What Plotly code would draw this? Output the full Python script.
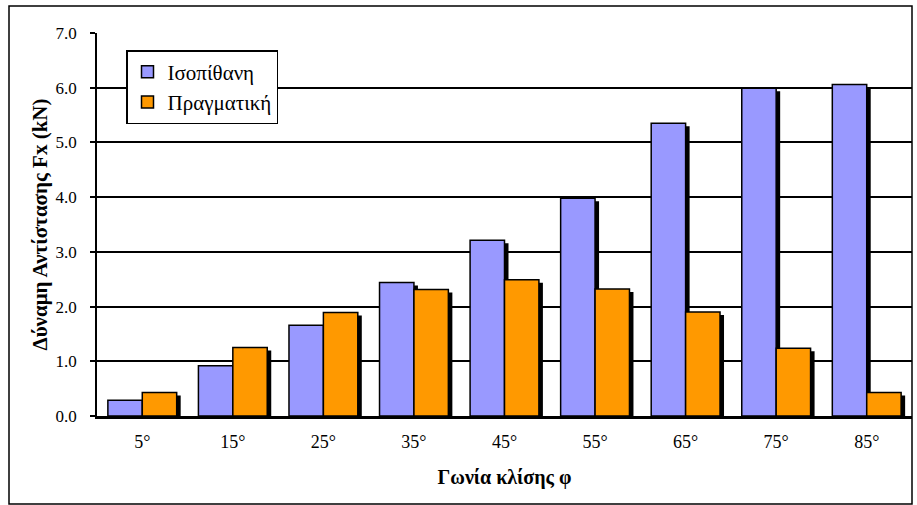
import plotly.graph_objects as go

categories = ["5°", "15°", "25°", "35°", "45°", "55°", "65°", "75°", "85°"]
isopithani = [0.29, 0.92, 1.66, 2.44, 3.21, 3.98, 5.35, 5.99, 6.06]
pragmatiki = [0.43, 1.25, 1.89, 2.31, 2.49, 2.32, 1.90, 1.24, 0.43]
series_names = ["Ισοπίθανη", "Πραγματική"]
y_ticks = [0, 1, 2, 3, 4, 5, 6, 7]
y_ticklabels = ["0.0", "1.0", "2.0", "3.0", "4.0", "5.0", "6.0", "7.0"]

BLUE = "#9999FF"
ORANGE = "#FF9900"
FONT = "Liberation Serif, Times New Roman, serif"

W, H = 917, 505
ML, MR, MT, MB = 97, 5, 33, 89
pw, ph = W - ML - MR, H - MT - MB
cat_px = pw / len(categories)
ymax = 7.0
unit_px = ph / ymax

bar_w = 0.38
sh_dx = 4 / cat_px
sh_dy = 3 / unit_px

fig = go.Figure()

for vals, name, color, off in [
    (isopithani, series_names[0], BLUE, -bar_w),
    (pragmatiki, series_names[1], ORANGE, 0.0),
]:
    # shadow
    fig.add_trace(go.Bar(
        x=categories, y=[v - sh_dy for v in vals],
        width=bar_w, offset=off + sh_dx,
        marker=dict(color="black", line=dict(width=0)),
        showlegend=False, hoverinfo="skip",
    ))
    fig.add_trace(go.Bar(
        x=categories, y=vals, name=name,
        width=bar_w, offset=off,
        marker=dict(color=color, line=dict(color="black", width=1.5)),
    ))

fig.update_layout(
    width=W, height=H,
    margin=dict(l=ML, r=MR, t=MT, b=MB),
    barmode="overlay",
    plot_bgcolor="white", paper_bgcolor="white",
    font=dict(family=FONT, color="black"),
    showlegend=True,
    legend=dict(
        x=(126 - ML) / pw, y=(416 - 50) / ph, xanchor="left", yanchor="top",
        bgcolor="white", bordercolor="black", borderwidth=1.5,
        font=dict(family=FONT, size=21, color="black"),
        tracegroupgap=0, itemwidth=30,
    ),
    xaxis=dict(
        showline=True, linecolor="black", linewidth=2.5,
        showgrid=False, ticks="", ticklabelstandoff=8,
        tickfont=dict(family=FONT, size=18, color="black"),
        title=dict(text="<b>Γωνία κλίσης φ</b>",
                   font=dict(family=FONT, size=20, color="black"), standoff=19),
    ),
    yaxis=dict(
        range=[0, ymax], tickvals=y_ticks, ticktext=y_ticklabels,
        showline=True, linecolor="black", linewidth=1.5,
        showgrid=True, gridcolor="black", gridwidth=1.5,
        ticks="outside", ticklen=5, tickcolor="black", tickwidth=1.5,
        ticklabelstandoff=10,
        tickfont=dict(family=FONT, size=17, color="black"),
        zeroline=False,
        title=dict(text="<b>Δύναμη Αντίστασης Fx (kN)</b>",
                   font=dict(family=FONT, size=21, color="black"), standoff=2),
    ),
    shapes=[dict(
        type="rect", xref="paper", yref="paper",
        x0=(9 - ML) / pw, x1=1.0, y0=(416 - 504) / ph, y1=(416 - 6) / ph,
        line=dict(color="black", width=1.5), fillcolor="rgba(0,0,0,0)",
        layer="above",
    )],
)

fig.write_html("out.html", config={"displayModeBar": False},
               post_script="document.body.style.margin='0px';")
